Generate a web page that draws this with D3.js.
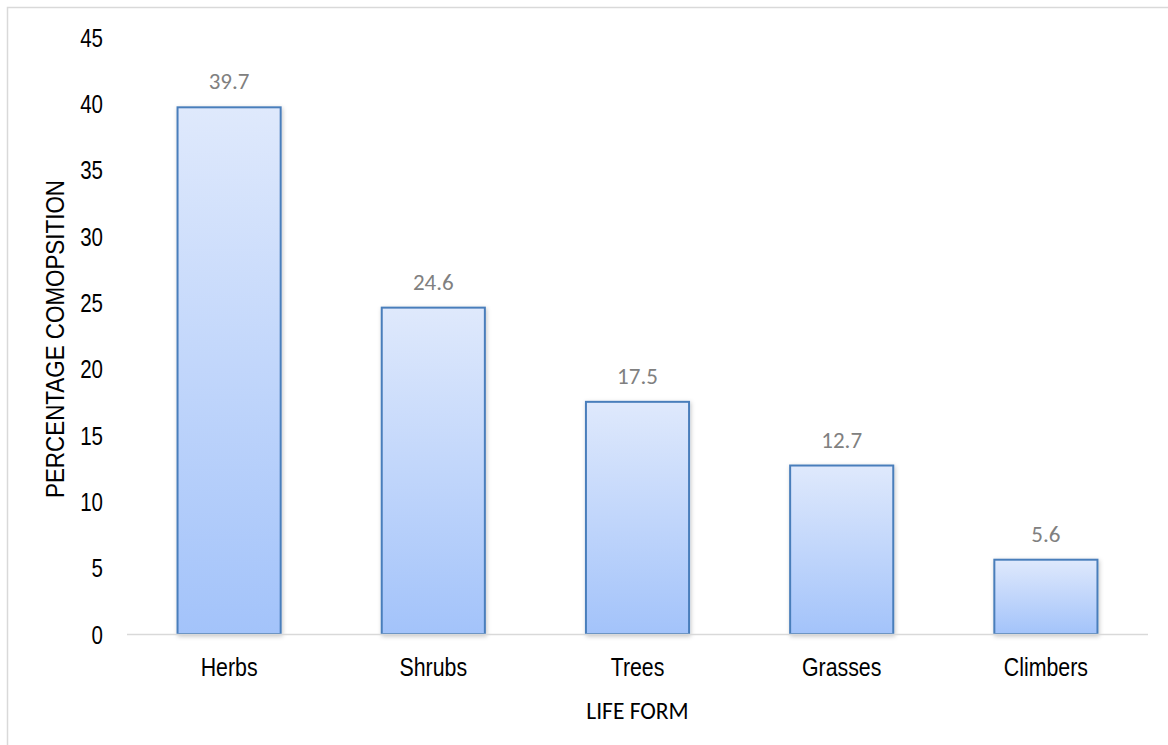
<!DOCTYPE html>
<html>
<head>
<meta charset="utf-8">
<script src="https://cdn.jsdelivr.net/npm/d3@7"></script>
<style>
  html, body { margin: 0; padding: 0; background: #fff; }
  svg { display: block; }
</style>
</head>
<body>
<svg id="chart" width="1168" height="745"></svg>
<script>
// Life-form composition (%)
const categories = ["Herbs", "Shrubs", "Trees", "Grasses", "Climbers"];
const values = [39.7, 24.6, 17.5, 12.7, 5.6];
const yTicks = [0, 5, 10, 15, 20, 25, 30, 35, 40, 45];

const svg = d3.select("#chart");
const W = 1168, H = 745;
const plotLeft = 127, plotRight = 1148, plotTop = 37, plotBottom = 634;

const sans = "'Liberation Sans', Arial, sans-serif";
const body = "Carlito, Calibri, 'Open Sans', 'Noto Sans', sans-serif";

// condense a text run horizontally (narrow face look)
function condense(sel, factor) {
  sel.each(function () {
    const len = this.getComputedTextLength();
    d3.select(this)
      .attr("textLength", len * factor)
      .attr("lengthAdjust", "spacingAndGlyphs");
  });
}

// chart frame
svg.append("rect")
  .attr("x", 7.5).attr("y", 7.5)
  .attr("width", W + 10).attr("height", H + 10)
  .attr("fill", "#fff")
  .attr("stroke", "#d9d9d9").attr("stroke-width", 1.5);

const x = d3.scaleBand()
  .domain(categories)
  .range([plotLeft, plotRight])
  .paddingInner(0.495).paddingOuter(0.2475);

const y = d3.scaleLinear()
  .domain([0, 45])
  .range([plotBottom, plotTop]);

const defs = svg.append("defs");
const grad = defs.append("linearGradient")
  .attr("id", "barFill")
  .attr("gradientUnits", "objectBoundingBox")
  .attr("x1", 0).attr("y1", 0).attr("x2", 0).attr("y2", 1);
grad.append("stop").attr("offset", "0%").attr("stop-color", "#dfe9fc");
grad.append("stop").attr("offset", "100%").attr("stop-color", "#a3c3fa");

const shadow = defs.append("filter").attr("id", "shadow")
  .attr("x", "-10%").attr("y", "-10%").attr("width", "130%").attr("height", "130%");
shadow.append("feDropShadow")
  .attr("dx", 1).attr("dy", 1.5).attr("stdDeviation", 2.2)
  .attr("flood-color", "#000").attr("flood-opacity", 0.22);

// y axis tick labels (no axis line)
const yAxis = d3.axisLeft(y).tickValues(yTicks).tickSize(0).tickPadding(0);
const yg = svg.append("g").attr("transform", "translate(103,0)").call(yAxis);
yg.select(".domain").remove();
yg.selectAll("text")
  .attr("font-family", sans).attr("font-size", 25)
  .attr("fill", "#000").attr("dy", "0.36em")
  .call(condense, 0.82);

// bars
const data = categories.map((c, i) => ({ c, v: values[i] }));
svg.append("g").selectAll("rect")
  .data(data).join("rect")
  .attr("x", d => x(d.c))
  .attr("y", d => y(d.v))
  .attr("width", x.bandwidth())
  .attr("height", d => y(0) - y(d.v))
  .attr("fill", "url(#barFill)")
  .attr("stroke", "#4a7ebb").attr("stroke-width", 2)
  .attr("filter", "url(#shadow)");

// baseline
svg.append("line")
  .attr("x1", plotLeft).attr("x2", plotRight)
  .attr("y1", y(0) + 0.5).attr("y2", y(0) + 0.5)
  .attr("stroke", "#d9d9d9").attr("stroke-width", 1.5);

// value labels
svg.append("g").selectAll("text")
  .data(data).join("text")
  .attr("x", d => x(d.c) + x.bandwidth() / 2)
  .attr("y", d => y(d.v) - 18)
  .attr("text-anchor", "middle")
  .attr("font-family", body).attr("font-size", 23)
  .attr("fill", "#808080")
  .text(d => d.v.toFixed(1));

// x axis category labels
const xAxis = d3.axisBottom(x).tickSize(0).tickPadding(0);
const xg = svg.append("g").attr("transform", "translate(0,676)").call(xAxis);
xg.select(".domain").remove();
xg.selectAll("text")
  .attr("font-family", sans).attr("font-size", 26)
  .attr("fill", "#000").attr("dy", 0)
  .call(condense, 0.82);

// axis titles
svg.append("text")
  .attr("x", (plotLeft + plotRight) / 2)
  .attr("y", 719)
  .attr("text-anchor", "middle")
  .attr("font-family", body).attr("font-size", 23.5)
  .attr("fill", "#000")
  .text("LIFE FORM");

svg.append("text")
  .attr("transform", "translate(64,339) rotate(-90)")
  .attr("text-anchor", "middle")
  .attr("font-family", sans).attr("font-size", 25)
  .attr("fill", "#000")
  .text("PERCENTAGE COMOPSITION")
  .attr("textLength", 318)
  .attr("lengthAdjust", "spacingAndGlyphs");
</script>
</body>
</html>
